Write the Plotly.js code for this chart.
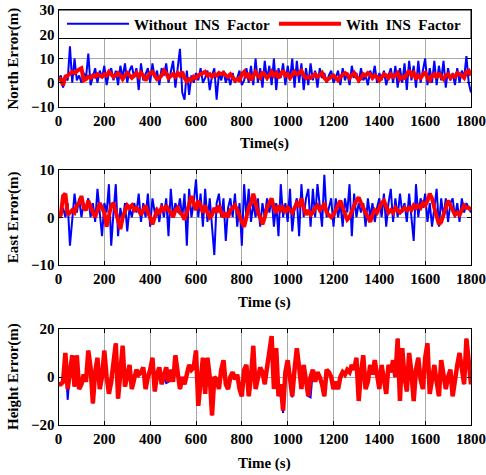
<!DOCTYPE html>
<html>
<head>
<meta charset="utf-8">
<script src="https://cdn.plot.ly/plotly-3.0.1.min.js"></script>
<style>html,body{margin:0;padding:0;background:#fff;}#chart{width:486px;height:475px;}</style>
</head>
<body>
<div id="chart"></div>
<script>
// ---- data (sampled every 10 s, 0..1800 s) ----
const sampleStep = 10;
const xTickVals = [0, 200, 400, 600, 800, 1000, 1200, 1400, 1600, 1800];
const xTickText = ['0', '200', '400', '600', '800', '1000', '1200', '1400', '1600', '1800'];
const seriesNames = ['Without  INS  Factor', 'With  INS  Factor'];
const yLabels = ['North Error(m)', 'East Error(m)', 'Height Error(m)'];
const xLabels = ['Time(s)', 'Time (s)', 'Time (s)'];

const northWithout = [1,3,-2,2,1,15,0,10,1,3,0,4,2,12,-1,2,6,0,5,2,
 7,-1,4,6,1,5,-1,7,2,8,0,5,7,2,6,-3,8,1,4,6,
 0,8,2,5,-1,6,3,8,0,4,9,-2,5,14,-4,-7,5,-5,3,0,
 4,1,6,0,2,5,-3,3,6,-7,4,1,5,0,3,-1,4,0,2,5,
 -1,1,6,0,7,-1,10,0,6,-2,9,1,7,-1,10,-3,6,2,8,-1,
 7,1,10,-2,9,0,8,-3,6,-1,8,1,5,-2,6,2,4,0,3,5,
 0,2,5,-1,6,1,4,-1,7,2,4,0,6,1,3,-1,5,2,7,0,
 4,1,5,-1,3,6,0,7,-2,6,0,8,-3,9,1,7,-2,9,0,5,
 10,-1,6,0,9,-1,7,1,9,-2,6,1,4,-1,6,0,5,2,11,0,-4];
const northWith = [2,1.5,-1,2.5,3,4,4.5,4,5,5.5,6,1,1.5,2.5,2,3,2.5,3.5,3,2.5,
 3.5,3,4.5,3.5,2.5,3,4,3,1.5,3,4,3,2,3,4,2.5,4,3,1,2.5,
 4,4.5,3,1.5,2,3,5,4,2,3,3.5,2.5,4,3,4.5,2,0.5,1.5,1,2.5,
 2,3,3.5,4,4.5,3,3.5,2.5,3.5,3,4,3.5,4,3,2.5,3.5,2,1,1.5,1,
 3.5,4.5,2,4,1,2.5,4.5,3,2,4.5,3,2,3,4.5,3,4,2,3.5,5,3,
 3.5,2,3,4.5,3.5,4,5,3,2,2.5,2,3,3.5,2.5,3,4,2,1,2,2.5,
 3,2,1,2.5,3.5,4,3.5,2,3,4,2.5,1,2,3.5,3,4,3.5,2,3,2.5,
 1,2.5,3.5,3,2,3.5,2.5,3,4,1.5,2.5,2,3.5,5,3,4,1.5,3,2,3.5,
 4.5,2,1,3,3.5,2,4,2.5,1.5,3,3.5,2,3,2.5,4,3.5,3,2,4.5,5,3];

const eastWithout = [0,1,2,0,3,-6,0,5,1,4,0,3,2,4,0,3,-1,6,1,-4,
 3,1,7,-6,1,7,-4,2,-1,3,-3,2,0,3,1,5,-1,3,0,5,
 -2,4,1,2,-1,3,0,4,-4,6,0,3,1,4,0,5,-6,6,0,3,
 8,0,5,-2,6,-1,4,-3,-8,3,5,0,4,-5,2,4,0,5,-2,3,
 -6,7,0,6,-1,3,0,4,-2,3,0,4,1,4,-2,3,-4,7,0,3,
 -1,6,-3,2,4,-4,7,0,4,6,-2,6,0,7,3,-2,9,0,2,4,
 -2,4,0,3,-2,4,1,7,-4,5,0,3,1,3,-2,4,0,3,-1,2,
 4,0,5,-2,3,6,-1,4,0,5,1,3,-1,5,0,-5,7,0,4,2,
 5,-1,3,-2,2,6,-2,4,0,4,-1,3,4,0,3,-1,4,1,3,2,1];
const eastWith = [0,0.5,4.5,5,0.5,1,1.5,1,2.5,3,4.5,2,1.5,3.5,2,1,0,1.5,3,2,
 1,-2,0,2.5,3,1,-1,-2.5,0,1.5,2.5,2,2.5,1.5,2,1.5,0.5,1.5,2.5,1,
 0,-1.5,0,1.5,1,2,1.5,2.5,1.5,1,0,1.5,2,1,0.5,-0.5,1,3,4.5,3,
 1.5,3.5,2.5,1,2.5,1,0,0.5,2,1,2.5,1,0,1,0,1.5,2,2.5,1.5,0,
 -1,-2,0,2,3,5,3,1,0,-1.5,0,2,3,4,2,1,2.5,1.5,2,1,
 2,1.5,1,2,3,2.5,4,2,0.5,1.5,0.5,1,2,2.5,1.5,2,3,1,0.5,0,
 0.5,1.5,2.5,3.5,2,0.5,-0.5,0,1.5,2.5,3.5,4.2,3,2,1,0,-1,0.5,1.5,1,
 2,3,3.5,2,1,1.5,1,2,1.5,1,1.5,2,1.5,2,1.5,2.5,2,2.5,2,3,
 2.5,3.5,5,4,2,0,-1.5,-1,0.5,2,3.5,2.5,1.5,0.5,1,0.5,1.5,2.5,2,2,1.5];

const heightWith = [-3,-3,-2,10,-5,3,9,-4,9,-5,-3,1,-2,11,4,-11,2,8,-5,0,
 11,0,-7,-2,8,14,-9,5,13,-4,0,5,-5,0,3,1,2,4,-5,0,
 3,8,-6,1,4,-3,0,4,-2,3,-2,9,2,-5,0,-3,1,5,3,4,
 11,-12,-2,8,-7,8,0,-16,0,-1,-5,3,7,-3,-5,0,2,-1,1,-5,
 -8,3,5,-8,0,13,-5,0,4,2,-3,4,10,17,-5,12,-8,-3,-14,2,
 7,-1,-8,3,12,4,-5,5,-1,-8,0,3,-2,2,0,-3,-8,3,2,0,
 -5,-2,-5,0,2,1,3,2,5,3,8,-10,2,9,-5,-2,5,1,7,0,
 -5,5,-2,-7,5,2,7,0,16,-10,12,0,-6,10,2,-10,3,8,-1,-5,
 8,14,-7,0,5,-2,-8,7,1,-5,0,3,-8,0,5,10,2,-3,16,8,-3];
const heightWithout = [-3,-3,-2,10,-9.5,3,9,-4,9,-5,-3,1,-2,11,4,-11,2,8,-5,0,
 11,0,-7,-2,8,14,-9,5,13,-4,0,5,-5,0,3,1,2,4,-5,0,
 3,8,-6,1,4,-3,0,-2.5,-2,3,-2,9,2,-5,0,-3,1,5,3,4,
 11,-12,-2,8,-7,8,0,-16,0,-1,-5,3,7,-3,-5,0,2,-1,1,-5,
 -8,3,5,-8,0,13,-5,0,4,2,-3,4,10,17,-5,12,-8,-3,-15,2,
 7,-1,-8.5,3,12,4,-5,5,-1,-8,-8.5,3,-2,2,0,-3,-8,3,2,0,
 -5,-2,-5,0,2,1,3,2,5,3,8,-10,2,9,-5,-2,5,1,7,0,
 -5,5,-2,-7,5,2,7,0,16,-10,12,0,-6,10,2,-10,3,8,-1,-5,
 8,14,-7,0,5,-2,-8,7,1,-5,0,3,-8,0,5,10,2,-3,16,8,-3];

const times = northWithout.map((_, i) => i * sampleStep);

// ---- styles ----
const FONT = 'Liberation Serif, Times New Roman, serif';
const blue = '#0000ff', red = '#ff0000';

const traces = [
  {x: times, y: northWithout, xaxis: 'x', yaxis: 'y', name: seriesNames[0], legend: 'legend', type: 'scatter', mode: 'lines', line: {color: blue, width: 2}},
  {x: times, y: northWith, xaxis: 'x', yaxis: 'y', name: seriesNames[1], legend: 'legend2', type: 'scatter', mode: 'lines', line: {color: red, width: 4}},
  {x: times, y: eastWithout, xaxis: 'x2', yaxis: 'y2', name: seriesNames[0], showlegend: false, type: 'scatter', mode: 'lines', line: {color: blue, width: 2}},
  {x: times, y: eastWith, xaxis: 'x2', yaxis: 'y2', name: seriesNames[1], showlegend: false, type: 'scatter', mode: 'lines', line: {color: red, width: 4}},
  {x: times, y: heightWithout, xaxis: 'x3', yaxis: 'y3', name: seriesNames[0], showlegend: false, type: 'scatter', mode: 'lines', line: {color: blue, width: 2}},
  {x: times, y: heightWith, xaxis: 'x3', yaxis: 'y3', name: seriesNames[1], showlegend: false, type: 'scatter', mode: 'lines', line: {color: red, width: 4.5}}
];

const W = 486, H = 475;
const xDom = [58.5 / W, 471 / W];
const yDoms = [[1 - 107 / H, 1 - 10 / H], [1 - 264.5 / H, 1 - 170 / H], [1 - 425 / H, 1 - 329 / H]];
const yRanges = [[-10, 30], [-10, 10], [-20, 20]];
const yTicks = [[-10, 0, 10, 20, 30], [-10, 0, 10], [-20, 0, 20]];

const tickFont = {family: FONT, size: 15, color: '#000', weight: 'bold'};
function xAxis(i) {
  return {domain: xDom, anchor: 'y' + (i ? i + 1 : ''), range: [0, 1800], tickvals: xTickVals, ticktext: xTickText,
    ticks: 'inside', ticklen: 4, tickcolor: '#000', showline: true, linecolor: '#000', linewidth: 1, mirror: 'ticks',
    showgrid: true, gridcolor: '#a8a8a8', gridwidth: 1, zeroline: false, tickfont: tickFont, fixedrange: true};
}
function yAxis(i) {
  return {domain: yDoms[i], anchor: 'x' + (i ? i + 1 : ''), range: yRanges[i], tickvals: yTicks[i],
    ticks: 'inside', ticklen: 4, tickcolor: '#000', showline: true, linecolor: '#000', linewidth: 1, mirror: 'ticks',
    showgrid: true, gridcolor: '#a8a8a8', gridwidth: 1, zeroline: false, tickfont: tickFont, fixedrange: true};
}

const annotations = [];
const titleFont = {family: FONT, size: 15, color: '#000', weight: 'bold'};
const xTitleY = [143, 302, 463];
for (let i = 0; i < 3; i++) {
  annotations.push({text: xLabels[i], xref: 'paper', yref: 'paper', x: (xDom[0] + xDom[1]) / 2, y: 1 - xTitleY[i] / H,
    xanchor: 'center', yanchor: 'middle', showarrow: false, font: titleFont});
  annotations.push({text: yLabels[i], xref: 'paper', yref: 'paper', x: 13 / W, y: (yDoms[i][0] + yDoms[i][1]) / 2,
    xanchor: 'center', yanchor: 'middle', textangle: -90, showarrow: false, font: titleFont});
}

function legendAt(px) {
  return {orientation: 'h', x: px / W, y: 1 - 24 / H, xanchor: 'left', yanchor: 'middle',
    bgcolor: 'rgba(0,0,0,0)', borderwidth: 0, font: {family: FONT, size: 15, color: '#000', weight: 'bold'},
    itemwidth: 62};
}

const layout = {
  width: W, height: H,
  margin: {l: 0, r: 0, t: 0, b: 0},
  paper_bgcolor: '#fff', plot_bgcolor: '#fff',
  font: {family: FONT, color: '#000'},
  xaxis: xAxis(0), xaxis2: xAxis(1), xaxis3: xAxis(2),
  yaxis: yAxis(0), yaxis2: yAxis(1), yaxis3: yAxis(2),
  showlegend: true,
  legend: legendAt(62),
  legend2: legendAt(274),
  shapes: [{type: 'rect', xref: 'paper', yref: 'paper', x0: xDom[0], x1: xDom[1], y0: 1 - 38.5 / H, y1: yDoms[0][1],
    fillcolor: '#fff', line: {color: '#000', width: 1}, layer: 'above'}],
  annotations: annotations
};

Plotly.newPlot('chart', traces, layout, {displayModeBar: false, staticPlot: true});
</script>
</body>
</html>
